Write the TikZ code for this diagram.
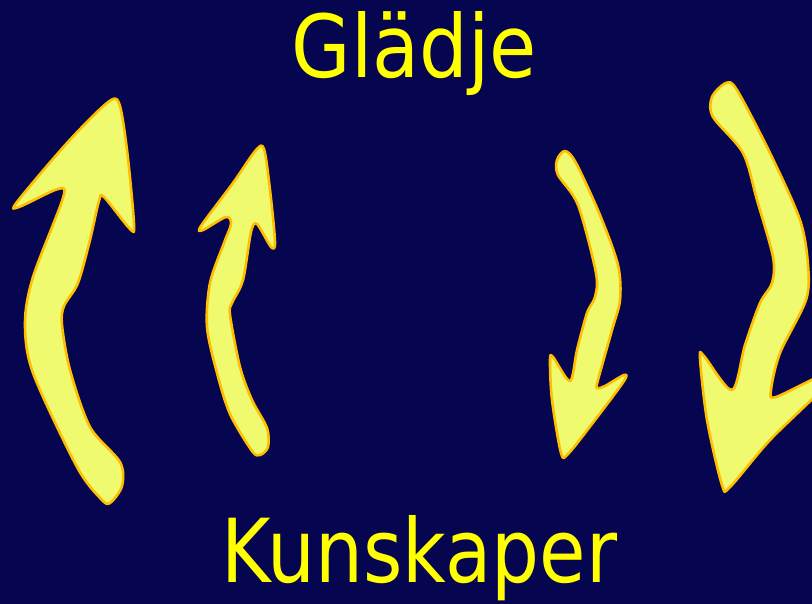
\documentclass[tikz,border=0pt]{standalone}
\usepackage{fontspec}
\setmainfont{DejaVu Sans}
\usepackage{graphicx}
\definecolor{bg}{RGB}{6,6,80}
\definecolor{arrowfill}{RGB}{240,250,110}
\definecolor{arrowline}{RGB}{255,190,0}
\definecolor{txt}{RGB}{255,255,0}
\begin{document}
\begin{tikzpicture}[x=1pt,y=-1pt,
  curvedarrow/.style={fill=arrowfill, draw=arrowline, line width=2.6pt, line join=round},
  wordlabel/.style={text=txt, inner sep=0pt, anchor=base}]
\fill[bg] (0,0) rectangle (812,604);
\useasboundingbox (0,0) rectangle (812,604);
\begin{scope}
\clip (0,0) rectangle (812,604);
% left big arrow (up)
\draw[curvedarrow] plot[smooth cycle, tension=0.5] coordinates {
  (107,103) (119,103) (127,150) (134,224) (130,229) (104,197) (99,201)
  (90,240) (78,283) (64,306) (62,325) (70,370) (90,427) (120,462)
  (122,486) (110,503) (101,499) (77,467) (33,373) (25,323) (33,277)
  (63,198) (58,189) (19,207) (17,202) (67,143)};
% left small arrow (up)
\draw[curvedarrow] plot[smooth cycle, tension=0.5] coordinates {
  (256,150) (264,149) (270,190) (275,242) (271,247) (257,224) (251,232)
  (243,280) (232,303) (230,315) (240,367) (252,400) (267,428) (268,447)
  (260,455) (252,451) (230,414) (217,373) (207,327) (210,283) (224,243)
  (231,224) (226,217) (203,230) (201,226) (233,183)};
% right small arrow (down)
\draw[curvedarrow] plot[smooth cycle, tension=0.5] coordinates {
  (565,151) (576,163) (600,215) (618,265) (620,300) (612,330) (598,380)
  (597,388) (605,386) (624,375) (624,381) (595,420) (568,454) (561,453)
  (552,400) (550,360) (553,357) (570,381) (577,350) (587,313) (595,297)
  (596,273) (578,205) (558,175) (557,160)};
% right big arrow (down)
\draw[curvedarrow] plot[smooth cycle, tension=0.5] coordinates {
  (726,83) (737,90) (770,153) (800,220) (808,265) (806,300) (780,353)
  (771,390) (776,397) (825,374) (825,386) (770,440) (730,487) (722,485)
  (707,420) (700,358) (704,356) (732,390) (745,345) (760,303) (772,283)
  (773,257) (757,200) (743,153) (713,117) (712,97)};
\end{scope}
\node[wordlabel] (glad) at (414.5,78) {\resizebox{245pt}{66pt}{Glädje}};
\node[wordlabel] (kuns) at (419.5,582) {\resizebox{395pt}{67pt}{Kunskaper}};
\end{tikzpicture}
\end{document}
